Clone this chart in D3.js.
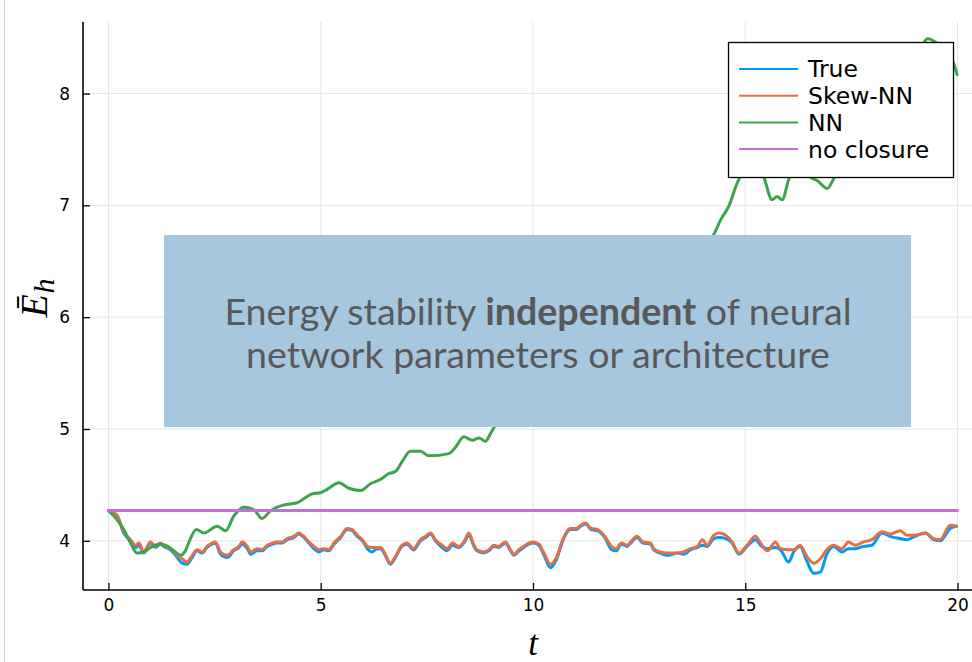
<!DOCTYPE html>
<html>
<head>
<meta charset="utf-8">
<script src="https://cdn.jsdelivr.net/npm/d3@7"></script>
<style>
  html, body { margin: 0; padding: 0; background: #fff; }
  svg { display: block; }
</style>
</head>
<body>
<svg id="chart" width="972" height="662"></svg>
<script>
// ---- data -------------------------------------------------------------
// Time stamps shared by the reference ("True") and Skew-NN energy traces
const tFine = [0.00,0.20,0.36,0.52,0.64,0.72,0.83,0.99,1.11,1.22,1.34,1.46,1.62,1.73,1.85,1.97,2.09,2.21,2.32,2.44,2.52,2.64,2.80,2.95,3.07,3.15,3.27,3.35,3.50,3.62,3.74,3.86,3.97,4.09,4.21,4.37,4.48,4.60,4.72,4.84,4.96,5.07,5.19,5.31,5.47,5.62,5.74,5.86,5.98,6.10,6.21,6.33,6.41,6.52,6.64,6.76,6.91,7.03,7.19,7.35,7.47,7.59,7.70,7.86,7.98,8.10,8.25,8.37,8.49,8.61,8.68,8.84,8.96,9.08,9.19,9.35,9.47,9.55,9.67,9.78,9.90,10.02,10.14,10.26,10.41,10.55,10.70,10.88,11.02,11.12,11.24,11.37,11.53,11.69,11.85,11.96,12.08,12.22,12.30,12.45,12.59,12.77,12.84,13.00,13.16,13.40,13.55,13.71,13.87,13.99,14.10,14.26,14.38,14.54,14.69,14.85,15.04,15.24,15.36,15.52,15.71,15.83,16.02,16.14,16.29,16.45,16.61,16.77,16.92,17.08,17.28,17.43,17.59,17.79,17.98,18.22,18.41,18.65,18.81,19.00,19.24,19.44,19.59,19.83,19.98];

const energyTrue = [4.27,4.22,4.07,4.00,3.94,3.96,3.89,3.98,3.94,3.97,3.94,3.92,3.85,3.80,3.79,3.85,3.91,3.89,3.94,3.97,3.98,3.88,3.85,3.91,3.94,3.97,3.93,3.88,3.91,3.91,3.95,3.97,3.98,3.98,4.01,4.03,4.06,4.03,3.98,3.93,3.90,3.92,3.91,3.97,4.03,4.10,4.09,4.04,4.00,3.93,3.90,3.93,3.93,3.87,3.79,3.85,3.95,3.97,3.92,4.00,4.03,4.06,4.00,3.94,3.91,3.96,3.94,3.98,4.05,3.95,3.91,3.89,3.91,3.95,3.94,3.98,3.91,3.87,3.91,3.94,3.97,3.98,3.96,3.87,3.76,3.83,4.00,4.10,4.10,4.13,4.15,4.10,4.09,4.03,3.92,3.91,3.97,3.95,3.98,4.03,3.98,3.97,3.92,3.89,3.87,3.89,3.88,3.92,3.94,3.96,3.95,4.02,4.03,4.02,3.98,3.88,3.95,4.01,3.96,3.93,3.94,3.92,3.81,3.90,3.95,3.82,3.71,3.72,3.88,3.95,3.90,3.93,3.93,3.95,3.96,4.07,4.04,4.02,4.01,4.04,4.07,4.01,4.00,4.11,4.13];

const energySkewNN = [4.27,4.23,4.08,4.01,3.96,3.98,3.90,3.99,3.95,3.98,3.95,3.93,3.87,3.84,3.81,3.87,3.92,3.90,3.95,3.98,3.99,3.90,3.87,3.92,3.95,3.99,3.95,3.90,3.93,3.92,3.96,3.98,3.99,3.99,4.02,4.04,4.07,4.04,3.99,3.95,3.92,3.93,3.92,3.98,4.04,4.11,4.10,4.05,4.01,3.95,3.94,3.94,3.94,3.88,3.80,3.86,3.96,3.98,3.93,4.01,4.04,4.07,4.01,3.96,3.93,3.98,3.95,3.99,4.07,3.96,3.92,3.90,3.92,3.96,3.95,3.99,3.92,3.88,3.92,3.95,3.98,3.99,3.97,3.89,3.79,3.85,4.01,4.11,4.11,4.14,4.16,4.11,4.10,4.04,3.95,3.93,3.98,3.96,3.99,4.04,3.99,3.98,3.93,3.90,3.89,3.89,3.90,3.93,3.95,4.01,3.96,4.05,4.07,4.05,3.99,3.89,3.96,4.04,3.98,3.91,3.99,3.93,3.92,3.92,3.96,3.86,3.80,3.84,3.92,3.96,3.93,3.99,3.96,3.99,4.01,4.08,4.06,4.09,4.05,4.05,4.07,4.02,4.01,4.14,4.13];

// NN closure trace, sampled on its own time stamps
const tNN = [0.00,0.20,0.36,0.52,0.67,0.83,0.99,1.19,1.34,1.54,1.70,1.81,1.93,2.07,2.25,2.56,2.76,2.95,3.19,3.42,3.62,3.82,4.13,4.44,4.80,4.99,5.15,5.43,5.66,5.94,6.17,6.41,6.60,6.76,6.92,7.11,7.35,7.55,8.02,8.18,8.37,8.57,8.73,8.88,9.00,9.12,9.60,10.20,10.80,11.40,12.00,12.60,13.20,13.70,14.00,14.26,14.42,14.61,14.81,15.00,15.20,15.43,15.63,15.75,15.87,16.03,16.20,16.40,16.54,16.70,16.93,17.10,17.40,17.80,18.20,18.60,19.00,19.30,19.52,19.76,19.91,19.99];
const energyNN = [4.27,4.19,4.10,3.98,3.89,3.90,3.94,3.97,3.96,3.91,3.87,3.91,4.02,4.10,4.07,4.13,4.09,4.22,4.30,4.28,4.20,4.27,4.32,4.34,4.42,4.43,4.46,4.52,4.47,4.45,4.51,4.55,4.60,4.62,4.71,4.80,4.80,4.76,4.78,4.84,4.93,4.90,4.92,4.89,4.96,5.04,5.22,5.40,5.58,5.80,5.98,6.18,6.38,6.52,6.60,6.74,6.87,6.99,7.20,7.33,7.37,7.26,7.05,7.08,7.05,7.24,7.33,7.31,7.25,7.22,7.15,7.25,7.40,7.56,7.76,7.98,8.26,8.49,8.45,8.36,8.27,8.17];

// Energy without any closure stays at its initial value
const tNoClosure = [0, 20];
const energyNoClosure = [4.27, 4.27];

const seriesNames = ["True", "Skew-NN", "NN", "no closure"];
const seriesColors = ["#009af9", "#e26f46", "#3da44d", "#c271d2"];

const xTicks = [0, 5, 10, 15, 20];
const yTicks = [4, 5, 6, 7, 8];

const noteLine1 = ["Energy stability ", "independent", " of neural"];
const noteLine2 = "network parameters or architecture";

// ---- layout -----------------------------------------------------------
const W = 972, H = 662;
const plot = { left: 83, right: 983, top: 22, bottom: 590 };

const svg = d3.select("#chart");

const x = d3.scaleLinear().domain([-0.6, 20.6]).range([plot.left, plot.right]);
const y = d3.scaleLinear().domain([3.56, 8.64]).range([plot.bottom, plot.top]);

// thin frame line along the left edge of the figure
svg.append("line")
  .attr("x1", 4.5).attr("x2", 4.5).attr("y1", 0).attr("y2", H)
  .attr("stroke", "#cfcfcf").attr("stroke-width", 1);

svg.append("defs").append("clipPath").attr("id", "plotClip")
  .append("rect")
  .attr("x", plot.left).attr("y", plot.top - 2)
  .attr("width", plot.right - plot.left).attr("height", plot.bottom - plot.top + 2);

// grid
const grid = svg.append("g").attr("class", "grid");
grid.selectAll("line.gx").data(xTicks).join("line")
  .attr("class", "gx")
  .attr("x1", d => x(d)).attr("x2", d => x(d))
  .attr("y1", plot.top).attr("y2", plot.bottom)
  .attr("stroke", "#e5e5e5").attr("stroke-width", 1);
grid.selectAll("line.gy").data(yTicks).join("line")
  .attr("class", "gy")
  .attr("x1", plot.left).attr("x2", plot.right)
  .attr("y1", d => y(d)).attr("y2", d => y(d))
  .attr("stroke", "#e5e5e5").attr("stroke-width", 1);

// series
const traces = [
  { t: tFine, v: energyTrue },
  { t: tFine, v: energySkewNN },
  { t: tNN, v: energyNN },
  { t: tNoClosure, v: energyNoClosure }
];

const line = d3.line()
  .x(d => x(d[0]))
  .y(d => y(d[1]))
  .curve(d3.curveMonotoneX);

const lines = svg.append("g").attr("clip-path", "url(#plotClip)");
traces.forEach((s, i) => {
  lines.append("path")
    .datum(s.t.map((t, k) => [t, s.v[k]]))
    .attr("d", line)
    .attr("fill", "none")
    .attr("stroke", seriesColors[i])
    .attr("stroke-width", 3)
    .attr("stroke-linejoin", "round")
    .attr("stroke-linecap", "round");
});

// axes with inward ticks
const tickFont = "DejaVu Sans, sans-serif";
const xAxis = svg.append("g")
  .attr("transform", `translate(0,${plot.bottom})`)
  .call(d3.axisBottom(x).tickValues(xTicks).tickFormat(d3.format("d"))
    .tickSizeInner(-7).tickSizeOuter(0).tickPadding(9));
const yAxis = svg.append("g")
  .attr("transform", `translate(${plot.left},0)`)
  .call(d3.axisLeft(y).tickValues(yTicks).tickFormat(d3.format("d"))
    .tickSizeInner(-7).tickSizeOuter(0).tickPadding(13));

[xAxis, yAxis].forEach(a => {
  a.select(".domain").remove();
  a.selectAll(".tick line").attr("stroke", "#000").attr("stroke-width", 1.3);
  a.selectAll(".tick text")
    .attr("fill", "#000")
    .style("font-family", tickFont)
    .style("font-size", "17px");
});

// spines
svg.append("line")
  .attr("x1", plot.left).attr("x2", plot.left)
  .attr("y1", plot.top).attr("y2", plot.bottom)
  .attr("stroke", "#000").attr("stroke-width", 1.6);
svg.append("line")
  .attr("x1", plot.left).attr("x2", W)
  .attr("y1", plot.bottom).attr("y2", plot.bottom)
  .attr("stroke", "#000").attr("stroke-width", 1.6);

// axis titles
const mathFont = "Liberation Serif, DejaVu Serif, serif";
svg.append("text")
  .attr("x", x(10)).attr("y", 655)
  .attr("text-anchor", "middle")
  .style("font-family", mathFont)
  .style("font-style", "italic")
  .style("font-size", "35px")
  .text("t");

const yTitle = svg.append("text")
  .attr("transform", `translate(47,298) rotate(-90)`)
  .attr("text-anchor", "middle")
  .style("font-family", mathFont)
  .style("font-style", "italic")
  .style("font-size", "38px");
yTitle.append("tspan").text("\u0112");
yTitle.append("tspan").attr("dy", 7).attr("dx", 1).style("font-size", "30px").text("h");

// annotation panel
const note = { x: 164, y: 235, w: 747, h: 192 };
svg.append("rect")
  .attr("x", note.x).attr("y", note.y)
  .attr("width", note.w).attr("height", note.h)
  .attr("fill", "#a6c7dd");

const noteFont = "Lato, sans-serif";
const n1 = svg.append("text")
  .attr("x", 538).attr("y", 325)
  .attr("text-anchor", "middle")
  .attr("fill", "#595959")
  .style("font-family", noteFont)
  .style("font-size", "37.6px");
noteLine1.forEach((s, i) => {
  n1.append("tspan").style("font-weight", i === 1 ? "bold" : "normal").text(s);
});
svg.append("text")
  .attr("x", 538).attr("y", 368)
  .attr("text-anchor", "middle")
  .attr("fill", "#595959")
  .style("font-family", noteFont)
  .style("font-size", "37.6px")
  .text(noteLine2);

// legend
const lg = { x: 728, y: 42, w: 225, h: 135, row: 26.7, first: 69 };
const legend = svg.append("g");
legend.append("rect")
  .attr("x", lg.x + 0.5).attr("y", lg.y + 0.5)
  .attr("width", lg.w).attr("height", lg.h)
  .attr("fill", "#fff").attr("stroke", "#000").attr("stroke-width", 1.3);
seriesNames.forEach((name, i) => {
  const cy = lg.first + i * lg.row;
  legend.append("line")
    .attr("x1", lg.x + 11).attr("x2", lg.x + 70)
    .attr("y1", cy).attr("y2", cy)
    .attr("stroke", seriesColors[i]).attr("stroke-width", 2);
  legend.append("text")
    .attr("x", lg.x + 80).attr("y", cy)
    .attr("dy", "0.36em")
    .attr("fill", "#000")
    .style("font-family", tickFont)
    .style("font-size", "23.5px")
    .text(name);
});
</script>
</body>
</html>
